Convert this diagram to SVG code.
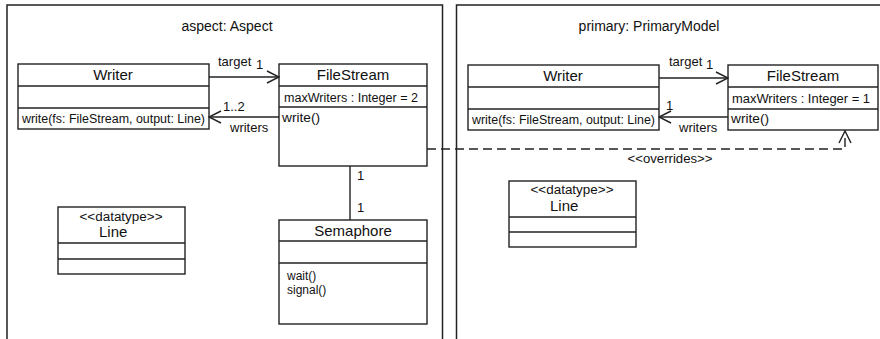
<svg xmlns="http://www.w3.org/2000/svg" width="880" height="339" viewBox="0 0 880 339">
<style>
.box{fill:#fff;stroke:#222;stroke-width:1.4}
.ln{stroke:#222;stroke-width:1.4;fill:none}
.frame{fill:none;stroke:#222;stroke-width:1.5}
text{font-family:"Liberation Sans",Arial,sans-serif;fill:#111}
.t14{font-size:14px}
.t15{font-size:15px}
.t13{font-size:13px}
.t12{font-size:12px}
.mid{text-anchor:middle}
</style>
<defs>
<marker id="open" viewBox="0 0 14 14" markerWidth="14" markerHeight="14" refX="13" refY="7" orient="auto" markerUnits="userSpaceOnUse">
<path d="M1,1 L13,7 L1,13" fill="none" stroke="#222" stroke-width="1.4"/>
</marker>
</defs>
<rect width="880" height="339" fill="#fff"/>

<g id="frame-aspect">
<path class="frame" d="M7,340 L7,5 L442.5,5 L442.5,340"/>
<text class="t14 mid" x="227" y="31">aspect: Aspect</text>
</g>
<g id="frame-primary">
<path class="frame" d="M456.5,340 L456.5,5 L882,5"/>
<text class="t14 mid" x="649" y="31">primary: PrimaryModel</text>
</g>

<g id="aspect-writer">
<rect class="box" x="18" y="64" width="191" height="65"/>
<line class="ln" x1="18" y1="86" x2="209" y2="86"/>
<line class="ln" x1="18" y1="108" x2="209" y2="108"/>
<text class="t15 mid" x="113" y="80">Writer</text>
<text class="t12" x="22" y="123" textLength="183" lengthAdjust="spacingAndGlyphs">write(fs: FileStream, output: Line)</text>
</g>

<g id="aspect-filestream">
<rect class="box" x="279" y="64" width="148" height="102"/>
<line class="ln" x1="279" y1="86" x2="427" y2="86"/>
<line class="ln" x1="279" y1="107" x2="427" y2="107"/>
<text class="t15 mid" x="353" y="80">FileStream</text>
<text class="t12" x="284" y="102" textLength="134" lengthAdjust="spacingAndGlyphs">maxWriters : Integer = 2</text>
<text class="t12" x="282" y="122" textLength="38" lengthAdjust="spacingAndGlyphs">write()</text>
</g>

<g id="aspect-semaphore">
<rect class="box" x="279" y="220" width="148" height="104"/>
<line class="ln" x1="279" y1="241" x2="427" y2="241"/>
<line class="ln" x1="279" y1="263" x2="427" y2="263"/>
<text class="t15 mid" x="353" y="236">Semaphore</text>
<text class="t12" x="287" y="280">wait()</text>
<text class="t12" x="287" y="294">signal()</text>
</g>

<g id="aspect-line">
<rect class="box" x="58" y="207" width="127" height="67"/>
<line class="ln" x1="58" y1="243" x2="185" y2="243"/>
<line class="ln" x1="58" y1="259" x2="185" y2="259"/>
<text class="t12 mid" x="121" y="221" textLength="83" lengthAdjust="spacingAndGlyphs">&lt;&lt;datatype&gt;&gt;</text>
<text class="t15" x="99" y="237">Line</text>
</g>

<g id="primary-writer">
<rect class="box" x="468" y="65" width="191" height="65"/>
<line class="ln" x1="468" y1="87" x2="659" y2="87"/>
<line class="ln" x1="468" y1="109" x2="659" y2="109"/>
<text class="t15 mid" x="563" y="81">Writer</text>
<text class="t12" x="472" y="124" textLength="183" lengthAdjust="spacingAndGlyphs">write(fs: FileStream, output: Line)</text>
</g>

<g id="primary-filestream">
<rect class="box" x="728" y="65" width="150" height="65"/>
<line class="ln" x1="728" y1="87" x2="878" y2="87"/>
<line class="ln" x1="728" y1="109" x2="878" y2="109"/>
<text class="t15 mid" x="803" y="81">FileStream</text>
<text class="t12" x="732" y="103" textLength="138" lengthAdjust="spacingAndGlyphs">maxWriters : Integer = 1</text>
<text class="t12" x="731" y="123" textLength="38" lengthAdjust="spacingAndGlyphs">write()</text>
</g>

<g id="primary-line">
<rect class="box" x="509" y="181" width="127" height="66"/>
<line class="ln" x1="509" y1="217" x2="636" y2="217"/>
<line class="ln" x1="509" y1="232" x2="636" y2="232"/>
<text class="t12 mid" x="572" y="194" textLength="83" lengthAdjust="spacingAndGlyphs">&lt;&lt;datatype&gt;&gt;</text>
<text class="t15" x="550" y="211">Line</text>
</g>

<g id="connectors">
<line class="ln" x1="209" y1="77" x2="279" y2="77" marker-end="url(#open)"/>
<text class="t13" x="218" y="66">target</text>
<text class="t13" x="256" y="69">1</text>
<line class="ln" x1="279" y1="117" x2="209" y2="117" marker-end="url(#open)"/>
<text class="t13" x="223" y="111">1..2</text>
<text class="t13" x="230" y="132">writers</text>

<line class="ln" x1="350" y1="166" x2="350" y2="220"/>
<text class="t13" x="357" y="180">1</text>
<text class="t13" x="357" y="212">1</text>

<line class="ln" x1="659" y1="78" x2="728" y2="78" marker-end="url(#open)"/>
<text class="t13" x="669" y="66">target</text>
<text class="t13" x="706" y="69">1</text>
<line class="ln" x1="728" y1="117" x2="659" y2="117" marker-end="url(#open)"/>
<text class="t13" x="666" y="110">1</text>
<text class="t13" x="679" y="132">writers</text>

<path class="ln" d="M427,149 L845,149 L845,131" stroke-dasharray="9,5" marker-end="url(#open)"/>
<text class="t12 mid" x="670" y="163" textLength="85" lengthAdjust="spacingAndGlyphs">&lt;&lt;overrides&gt;&gt;</text>
</g>
</svg>
